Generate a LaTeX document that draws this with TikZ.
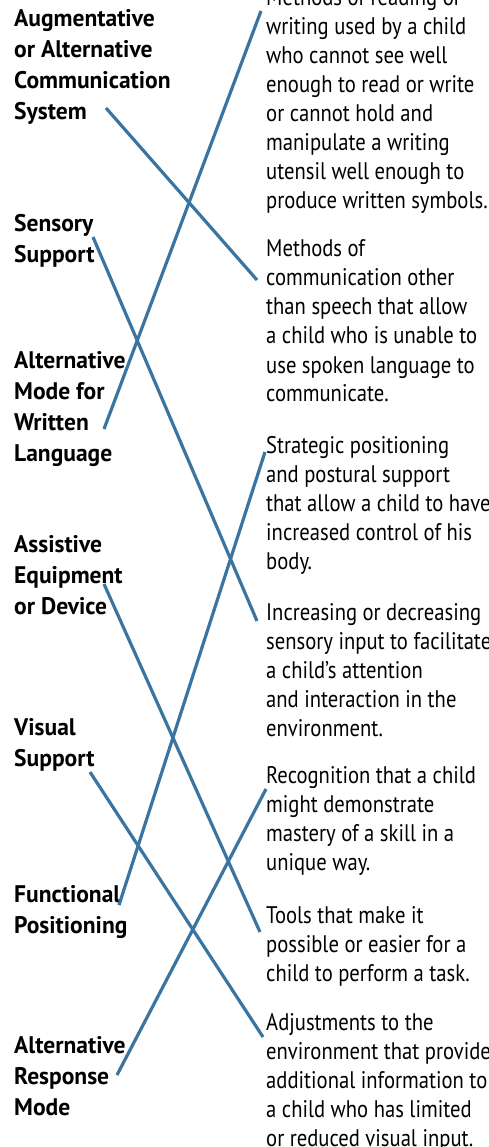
\documentclass[tikz,border=0pt]{standalone}
\usepackage{fontspec}
\setmainfont[FakeStretch=0.86,BoldFeatures={FakeStretch=0.98}]{PT Sans}
\definecolor{linkblue}{HTML}{3A74A0}
\newcommand{\lefttext}[1]{\parbox[t]{220pt}{\raggedright\fontsize{24}{31}\selectfont\bfseries #1}}
\newcommand{\righttext}[1]{\parbox[t]{240pt}{\raggedright\fontsize{24}{29}\selectfont #1}}
\begin{document}
\begin{tikzpicture}[x=1pt,y=-1pt,
  lbl/.style={anchor=base west,inner sep=0pt},
  link/.style={draw=linkblue,line width=3.2pt}]
\useasboundingbox (0,0) rectangle (489,1147);
% left labels
\node[lbl] (l1) at (14,27) {\lefttext{Augmentative\\or Alternative\\Communication\\System}};
\node[lbl] (l2) at (14,232) {\lefttext{Sensory\\Support}};
\node[lbl] (l3) at (14,368) {\lefttext{Alternative\\Mode for\\Written\\Language}};
\node[lbl] (l4) at (14,552) {\lefttext{Assistive\\Equipment\\or Device}};
\node[lbl] (l5) at (14,735) {\lefttext{Visual\\Support}};
\node[lbl] (l6) at (14,902) {\lefttext{Functional\\Positioning}};
\node[lbl] (l7) at (14,1053) {\lefttext{Alternative\\Response\\Mode}};
% right descriptions
\node[lbl] (r1) at (266,6) {\righttext{Methods of reading or\\writing used by a child\\who cannot see well\\enough to read or write\\or cannot hold and\\manipulate a writing\\utensil well enough to\\produce written symbols.}};
\node[lbl] (r2) at (266,257) {\righttext{Methods of\\communication other\\than speech that allow\\a child who is unable to\\use spoken language to\\communicate.}};
\node[lbl] (r3) at (266,453) {\righttext{Strategic positioning\\and postural support\\that allow a child to have\\increased control of his\\body.}};
\node[lbl] (r4) at (266,620) {\righttext{Increasing or decreasing\\sensory input to facilitate\\a child’s attention\\and interaction in the\\environment.}};
\node[lbl] (r5) at (266,783) {\righttext{Recognition that a child\\might demonstrate\\mastery of a skill in a\\unique way.}};
\node[lbl] (r6) at (266,923) {\righttext{Tools that make it\\possible or easier for a\\child to perform a task.}};
\node[lbl] (r7) at (266,1030) {\righttext{Adjustments to the\\environment that provide\\additional information to\\a child who has limited\\or reduced visual input.}};
% connector ends
\coordinate (a1) at (106,108);
\coordinate (a2) at (93,237);
\coordinate (a3) at (104,429);
\coordinate (a4) at (104,584);
\coordinate (a5) at (90,772);
\coordinate (a6) at (119,905);
\coordinate (a7) at (117,1075);
\coordinate (b1) at (261,11);
\coordinate (b2) at (257,280);
\coordinate (b3) at (265,452);
\coordinate (b4) at (257,621);
\coordinate (b5) at (266,789);
\coordinate (b6) at (260,932);
\coordinate (b7) at (263,1037);
% connectors
\draw[link] (a1) -- (b2);
\draw[link] (a2) -- (b4);
\draw[link] (a3) -- (b1);
\draw[link] (a4) -- (b6);
\draw[link] (a5) -- (b7);
\draw[link] (a6) -- (b3);
\draw[link] (a7) -- (b5);
\end{tikzpicture}
\end{document}
